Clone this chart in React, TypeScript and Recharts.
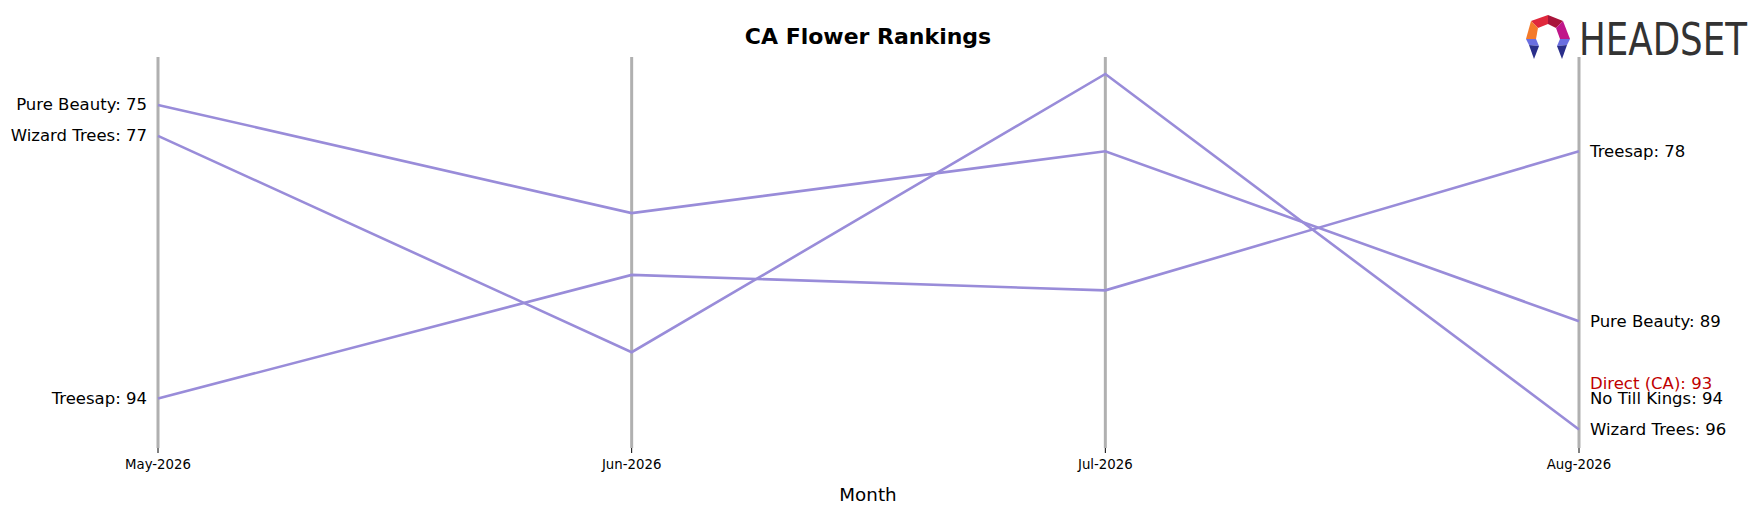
import React, { useLayoutEffect } from "react";
import {
  ComposedChart,
  Line,
  Scatter,
  XAxis,
  YAxis,
  CartesianGrid,
  LabelList,
  Customized,
} from "recharts";

// ranks per month, lower is better
const months = ["May-2026", "Jun-2026", "Jul-2026", "Aug-2026"];
const pureBeauty = [75, 82, 78, 89];
const wizardTrees = [77, 91, 73, 96];
const treesap = [94, 86, 87, 78];

// brands only ranked in the last month
const extraBrands = ["Direct (CA)", "No Till Kings"];
const extraRanks = [93, 94];
const highlightBrand = "Direct (CA)";

const series = [
  { key: "pureBeauty", name: "Pure Beauty", values: pureBeauty },
  { key: "wizardTrees", name: "Wizard Trees", values: wizardTrees },
  { key: "treesap", name: "Treesap", values: treesap },
];

const rows = months.map((m, i) => {
  const row: Record<string, number | string> = { idx: i, month: m };
  series.forEach((s) => {
    row[s.key] = s.values[i];
  });
  return row;
});

const extraRows = extraBrands.map((b, i) => ({ idx: months.length - 1, rank: extraRanks[i], brand: b }));

const FONT = "DejaVu Sans";
const LINE_COLOR = "#998cd9";
const LABEL_SIZE = 16.5;

function makeEndLabel(name: string) {
  return (props: any) => {
    const { x, y, index, value } = props;
    if (index !== 0 && index !== months.length - 1) return null;
    const left = index === 0;
    return (
      <text
        x={left ? x - 11 : x + 11}
        y={y}
        dy="0.33em"
        textAnchor={left ? "end" : "start"}
        fontFamily={FONT}
        fontSize={LABEL_SIZE}
        fill="#000"
      >
        {`${name}: ${value}`}
      </text>
    );
  };
}

function ExtraLabel(props: any) {
  const { cx, cy, payload } = props;
  return (
    <text
      x={cx + 11}
      y={cy}
      dy="0.33em"
      textAnchor="start"
      fontFamily={FONT}
      fontSize={LABEL_SIZE}
      fill={payload.brand === highlightBrand ? "#c00000" : "#000"}
    >
      {`${payload.brand}: ${payload.rank}`}
    </text>
  );
}

function Decorations() {
  return (
    <g>
      <text x={868} y={44} textAnchor="middle" fontFamily={FONT} fontWeight="bold" fontSize={22} fill="#000">
        CA Flower Rankings
      </text>
      <text x={868} y={501} textAnchor="middle" fontFamily={FONT} fontSize={18.3} fill="#000">
        Month
      </text>
      {/* headset logo */}
      <g transform="translate(1525,15)">
        <polygon points="6,6 23,0 23,9 13,13" fill="#e0283c" />
        <polygon points="23,0 38,6 31,13 23,9" fill="#a8143a" />
        <polygon points="38,6 45,24 35,24 31,13" fill="#c0168a" />
        <polygon points="6,6 13,13 11,24 1,24" fill="#f47a2a" />
        <polygon points="1,24 11,24 14,31 4,30" fill="#6a6ee0" />
        <polygon points="4,30 14,31 9,44" fill="#2a2e8a" />
        <polygon points="35,24 45,24 42,30 32,31" fill="#6a6ee0" />
        <polygon points="32,31 42,30 37,44" fill="#2a2e8a" />
      </g>
      <g transform="translate(1579,55) scale(1,1.25)">
        <text
          x={0}
          y={0}
          fontFamily={FONT}
          fontSize={36}
          fill="#333333"
          textLength={168}
          lengthAdjust="spacingAndGlyphs"
        >
          HEADSET
        </text>
      </g>
    </g>
  );
}

export default function App(): React.ReactElement {
  useLayoutEffect(() => {
    document.body.style.margin = "0";
  }, []);

  return (
    <div style={{ width: 1762, height: 506, background: "#fff" }}>
      <ComposedChart
        width={1762}
        height={506}
        data={rows}
        margin={{ top: 57, right: 183, bottom: 28, left: 158 }}
      >
        <CartesianGrid vertical horizontal={false} stroke="#b0b0b0" strokeWidth={3} />
        <XAxis
          type="number"
          dataKey="idx"
          domain={[0, months.length - 1]}
          ticks={months.map((_, i) => i)}
          tickFormatter={(i: number) => months[i]}
          height={30}
          axisLine={false}
          tickLine={{ stroke: "#000", strokeWidth: 1 }}
          tickSize={5}
          tickMargin={7}
          tick={{ fontSize: 13.3, fill: "#000", fontFamily: FONT }}
          interval={0}
        />
        <YAxis type="number" domain={[71.9, 97.2]} reversed hide />
        {series.map((s) => (
          <Line
            key={s.key}
            dataKey={s.key}
            name={s.name}
            stroke={LINE_COLOR}
            strokeWidth={2.6}
            dot={false}
            activeDot={false}
            isAnimationActive={false}
          >
            <LabelList dataKey={s.key} content={makeEndLabel(s.name)} />
          </Line>
        ))}
        <Scatter
          data={extraRows}
          dataKey="rank"
          shape={ExtraLabel}
          isAnimationActive={false}
        />
        <Customized component={Decorations} />
      </ComposedChart>
    </div>
  );
}
